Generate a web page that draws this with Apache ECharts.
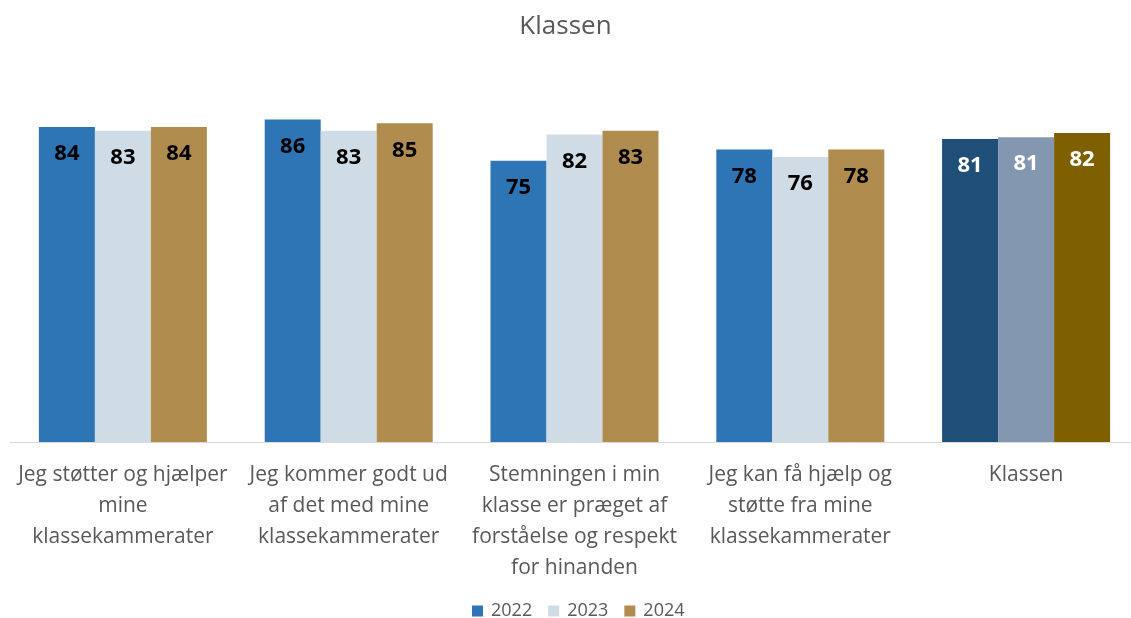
<!DOCTYPE html>
<html>
<head>
<meta charset="utf-8">
<script src="https://cdn.jsdelivr.net/npm/echarts@6/dist/echarts.min.js"></script>
<style>
  html, body { margin: 0; padding: 0; background: #fff; }
  #chart { width: 1131px; height: 618px; }
</style>
</head>
<body>
<div id="chart"></div>
<script>
var categories = [
  'Jeg støtter og hjælper\nmine\nklassekammerater',
  'Jeg kommer godt ud\naf det med mine\nklassekammerater',
  'Stemningen i min\nklasse er præget af\nforståelse og respekt\nfor hinanden',
  'Jeg kan få hjælp og\nstøtte fra mine\nklassekammerater',
  'Klassen'
]
var years = ['2022', '2023', '2024']
var values2022 = [84, 86, 75, 78, 80.8]
var values2023 = [83, 83, 82, 76, 81.3]
var values2024 = [84, 85, 83, 78, 82.4]

// normal colours, and darker ones for the summary group
var colors = ['#2E75B6', '#CFDBE5', '#B08C4E']
var summaryColors = ['#1F4E79', '#8497B0', '#7F6000']

var chart = echarts.init(document.getElementById('chart'))
var font = 'Open Sans'

var makeSeries = function(name, values, i) {
  return {
    name: name,
    type: 'bar',
    barWidth: 56,
    barGap: '0%',
    itemStyle: { color: colors[i] },
    label: {
      show: true,
      position: 'insideTop',
      distance: 16,
      fontFamily: font,
      fontWeight: 'bold',
      fontSize: 22,
      color: '#000',
      formatter: function(p) { return Math.round(p.value) }
    },
    data: values.map(function(v, k) {
      if (k === values.length - 1) {
        return {
          value: v,
          itemStyle: { color: summaryColors[i] },
          label: { color: '#fff' }
        }
      }
      return v
    })
  }
}

chart.setOption({
  backgroundColor: '#fff',
  animation: false,
  title: {
    text: 'Klassen',
    left: 'center',
    top: 9,
    textStyle: { fontFamily: font, fontSize: 26, fontWeight: 'normal', color: '#595959' }
  },
  legend: {
    top: 597,
    left: 467,
    itemWidth: 11,
    itemHeight: 11,
    itemGap: 16,
    icon: 'rect',
    textStyle: { fontFamily: font, fontSize: 18, color: '#595959', padding: [0, 0, 0, 3] },
    data: years
  },
  grid: { left: 10, width: 1129, top: 67, bottom: 176, outerBoundsMode: 'none' },
  xAxis: {
    type: 'category',
    data: categories,
    axisLine: { lineStyle: { color: '#D9D9D9', width: 1 } },
    axisTick: { show: false },
    axisLabel: {
      interval: 0,
      margin: 18,
      fontFamily: font,
      fontSize: 21,
      lineHeight: 31,
      color: '#595959'
    }
  },
  yAxis: {
    type: 'value',
    min: 0,
    max: 100,
    show: false,
    splitLine: { show: false }
  },
  series: [
    makeSeries(years[0], values2022, 0),
    makeSeries(years[1], values2023, 1),
    makeSeries(years[2], values2024, 2)
  ]
})
</script>
</body>
</html>
